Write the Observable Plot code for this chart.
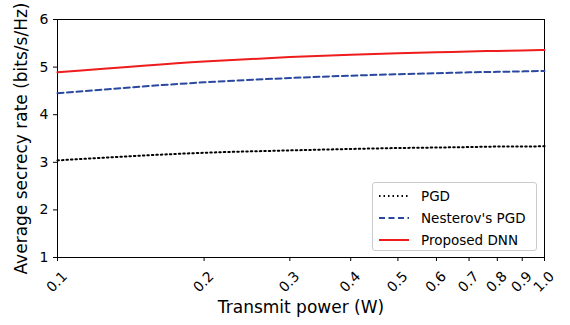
<!DOCTYPE html>
<html><head><meta charset="utf-8">
<script src="https://cdn.jsdelivr.net/npm/d3@7"></script>
<script src="https://cdn.jsdelivr.net/npm/@observablehq/plot@0.6"></script>
<style>
body{margin:0;background:#fff;font-family:"DejaVu Sans",sans-serif;}
#wrap{position:relative;width:570px;height:325px;}
#legend{position:absolute;left:372px;top:182px;width:165px;height:69px;border:1px solid #ccc;border-radius:3px;background:rgba(255,255,255,0.8);font-size:13.5px;color:#000;box-sizing:border-box;padding:2px 0 0 5px;}
#legend div{display:flex;align-items:center;height:22px;}
#legend svg{margin-right:11px;}
</style></head><body>
<div id="wrap"></div>
<script>
const power = [0.1,0.2,0.3,0.4,0.5,0.6,0.7,0.8,0.9,1.0];
const tickLabels = ["0.1","0.2","0.3","0.4","0.5","0.6","0.7","0.8","0.9","1.0"];
const yTicks = [1,2,3,4,5,6];
const pgd = [3.04,3.20,3.25,3.28,3.30,3.31,3.32,3.33,3.33,3.34];
const nesterov = [4.45,4.68,4.77,4.82,4.85,4.87,4.89,4.90,4.91,4.92];
const dnn = [4.89,5.12,5.21,5.26,5.29,5.31,5.33,5.34,5.35,5.36];
const seriesNames = ["PGD","Nesterov's PGD","Proposed DNN"];
const seriesColors = ["#000000","#2a48a0","#ee1c1c"];
const seriesDash = ["1.5,3","6,3.5",null];
const seriesVals = [pgd, nesterov, dnn];

const H = 325, MB = 68;
const marks = [];
seriesVals.forEach((vals,i)=>{
  const data = power.map((p,j)=>({x:p,y:vals[j]}));
  marks.push(Plot.line(data,{x:"x",y:"y",stroke:seriesColors[i],strokeWidth:2,strokeDasharray:seriesDash[i],curve:"monotone-x"}));
});
const chart = Plot.plot({
  width:570,height:H,
  marginLeft:57,marginRight:26,marginTop:19,marginBottom:MB,
  style:{fontFamily:"DejaVu Sans, sans-serif",fontSize:"14px",color:"#000",background:"#fff"},
  x:{type:"log",domain:[0.1,1.0],ticks:power,tickFormat:(d)=>tickLabels[power.indexOf(d)] ?? String(d),
     tickRotate:-45,tickSize:4,label:"Transmit power (W)",labelAnchor:"center",labelOffset:55,labelArrow:"none"},
  y:{domain:[1,6],ticks:yTicks,tickFormat:d=>String(d),tickSize:4,label:"Average secrecy rate (bits/s/Hz)",labelAnchor:"center",labelOffset:43,labelArrow:"none"},
  marks:[
    Plot.frame({stroke:"#000",strokeWidth:1}),
    ...marks
  ]
});
d3.select(chart).selectAll("[aria-label='x-axis label'] text, [aria-label='y-axis label'] text").style("font-size","17px");
// center rotated x tick labels under their ticks (matplotlib style)
const sx = chart.scale("x");
const axisY = H - MB;
const xtl = d3.select(chart).select("[aria-label='x-axis tick label']");
xtl.attr("transform", null);
xtl.selectAll("text").each(function(_, i){
  const t = d3.select(this);
  t.attr("transform", `translate(${sx.apply(power[i])},${axisY + 25}) rotate(-45)`)
   .attr("text-anchor","middle").attr("dy","0.32em").attr("y",null).attr("x",null);
});
document.getElementById("wrap").appendChild(chart);
const lg = document.createElement("div");
lg.id="legend";
seriesNames.forEach((n,i)=>{
  const row=document.createElement("div");
  row.innerHTML=`<svg width="32" height="10"><line x1="1" y1="5" x2="31" y2="5" stroke="${seriesColors[i]}" stroke-width="2" ${seriesDash[i]?`stroke-dasharray="${seriesDash[i]}"`:""}/></svg><span>${n}</span>`;
  lg.appendChild(row);
});
document.getElementById("wrap").appendChild(lg);
</script></body></html>
